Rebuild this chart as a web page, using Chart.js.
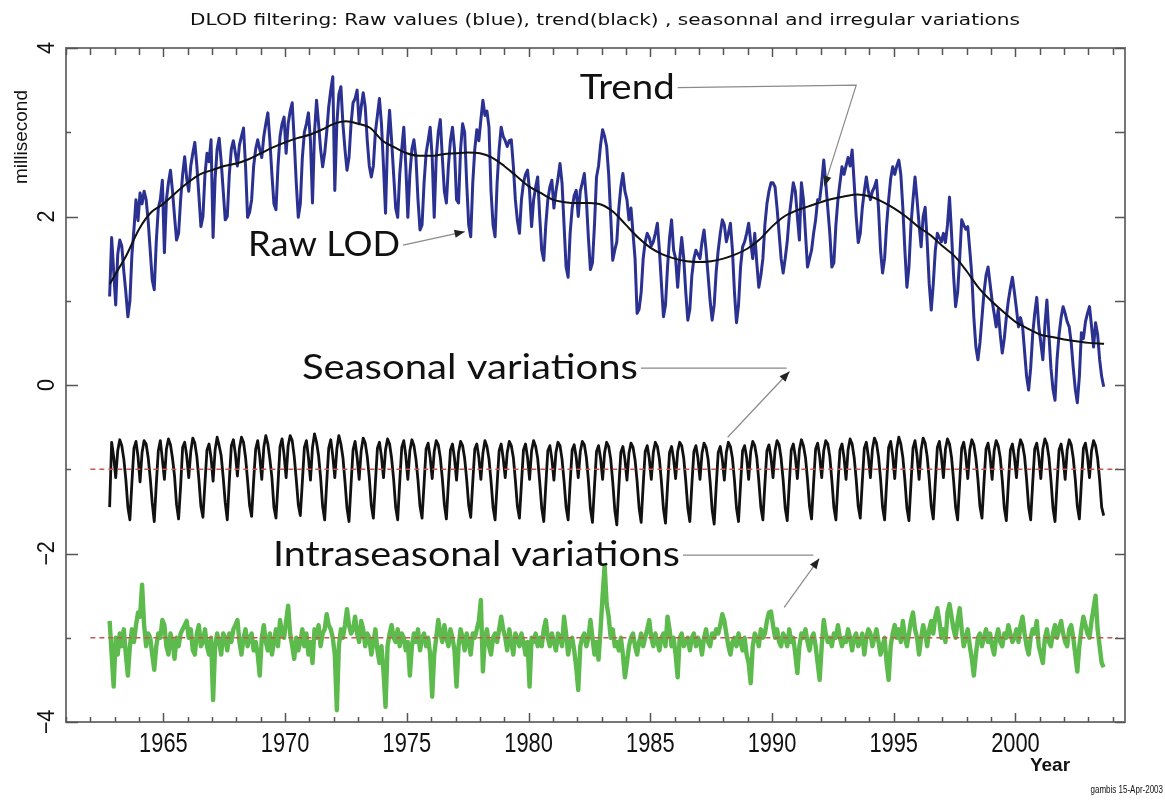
<!DOCTYPE html>
<html>
<head>
<meta charset="utf-8">
<script src="https://cdn.jsdelivr.net/npm/chart.js@4.4.0/dist/chart.umd.min.js"></script>
<style>
html,body{margin:0;padding:0;background:#fff;overflow:hidden}
#wrap{position:relative;width:1165px;height:807px;background:#fff}
canvas{display:block}
</style>
</head>
<body>
<div id="wrap"><canvas id="c" width="1165" height="807"></canvas></div>
<script>
// ---------------- DATA (monthly samples, first = Oct 1962) ----------------
const firstYear = 1962;
const firstMonth = 9; // October (0 = January)

// Raw LOD (blue), ms
const rawLOD = [
  1.05, 1.75, 1.35,
  0.95, 1.55, 1.72, 1.65, 1.35, 1.1, 0.81, 1.0, 1.55, 1.85, 2.2, 1.95,      // 1963
  2.28, 2.15, 2.3, 2.2, 1.95, 1.6, 1.25, 1.13, 1.7, 2.1, 2.2, 2.43,         // 1964
  1.57, 2.2, 2.4, 2.55, 2.3, 2.0, 1.72, 1.8, 2.2, 2.5, 2.71, 2.45,          // 1965
  2.3, 2.6, 2.75, 2.88, 2.6, 2.25, 1.88, 2.0, 2.5, 2.75, 2.65, 2.91,        // 1966
  1.75, 2.45, 2.8, 2.93, 2.65, 2.3, 1.96, 2.0, 2.5, 2.8, 2.9, 2.75,         // 1967
  2.6, 2.85, 2.95, 3.05, 2.6, 1.99, 2.05, 2.2, 2.6, 2.8, 2.91, 2.8,         // 1968
  2.7, 2.95, 3.1, 3.23, 2.9, 2.5, 2.15, 2.08, 2.6, 2.95, 3.1, 3.18,         // 1969
  2.75, 3.1, 3.25, 3.35, 2.9, 2.4, 1.99, 2.15, 2.7, 3.0, 3.1, 3.23,         // 1970
  2.9, 2.16, 3.0, 3.38, 3.1, 2.8, 2.59, 2.75, 3.0, 3.3, 3.5, 3.66,          // 1971
  2.31, 3.1, 3.45, 3.54, 3.1, 2.8, 2.55, 2.7, 3.1, 3.35, 3.4, 3.5,          // 1972
  3.1, 3.3, 3.47, 3.3, 2.9, 2.6, 2.47, 2.6, 3.0, 3.2, 3.4, 3.1,             // 1973
  2.6, 2.04, 2.9, 3.26, 2.9, 2.5, 2.1, 1.99, 2.5, 2.8, 3.06, 2.6,           // 1974
  1.99, 2.5, 2.8, 2.91, 2.7, 2.2, 1.84, 1.9, 2.4, 2.75, 2.9, 3.06,          // 1975
  2.7, 1.99, 2.7, 3.0, 3.15, 2.7, 2.3, 2.16, 2.6, 2.9, 3.06, 2.8,           // 1976
  2.2, 2.16, 2.8, 3.1, 3.0, 2.4, 1.9, 1.76, 2.4, 2.8, 3.03, 2.9,            // 1977
  3.15, 3.38, 3.2, 3.25, 3.06, 2.3, 1.9, 1.76, 2.4, 2.8, 3.06, 2.95,        // 1978
  2.9, 2.83, 2.9, 2.91, 2.6, 2.2, 1.95, 1.8, 2.2, 2.4, 2.5, 2.55,           // 1979
  2.3, 1.88, 2.2, 2.35, 2.47, 2.0, 1.6, 1.48, 1.9, 2.2, 2.35, 2.43,         // 1980
  2.1, 2.3, 2.45, 2.63, 2.4, 1.9, 1.4, 1.28, 1.8, 2.1, 2.25, 2.31,          // 1981
  2.0, 2.3, 2.4, 2.51, 2.2, 1.75, 1.37, 1.45, 1.9, 2.47, 2.6, 2.85,         // 1982
  3.03, 2.95, 2.83, 2.5, 2.0, 1.48, 1.6, 1.7, 2.1, 2.35, 2.51, 2.3,         // 1983
  2.2, 1.96, 2.1, 1.8, 1.5, 0.85, 0.9, 1.1, 1.5, 1.7, 1.8, 1.75,            // 1984
  1.65, 1.7, 1.8, 1.92, 1.6, 1.2, 0.81, 0.95, 1.4, 1.75, 1.96, 1.6,         // 1985
  1.5, 1.16, 1.5, 1.75, 1.5, 1.1, 0.77, 0.9, 1.3, 1.5, 1.6, 1.55,           // 1986
  1.5, 1.7, 1.84, 1.6, 1.3, 1.0, 0.77, 0.95, 1.35, 1.6, 1.8, 1.96,          // 1987
  1.9, 1.7, 1.8, 1.92, 1.6, 1.1, 0.74, 0.95, 1.4, 1.64, 1.7, 1.8,           // 1988
  1.92, 1.7, 1.5, 1.8, 1.45, 1.16, 1.3, 1.5, 1.9, 2.15, 2.3, 2.4,           // 1989
  2.4, 2.35, 2.1, 1.8, 1.5, 1.33, 1.5, 1.7, 2.0, 2.2, 2.4, 2.3,             // 1990
  2.0, 1.72, 2.4, 2.2, 1.8, 1.4, 1.5, 1.6, 1.8, 1.96, 2.2, 2.2,             // 1991
  2.4, 2.67, 2.4, 2.1, 1.8, 1.4, 1.45, 1.9, 2.2, 2.4, 2.59, 2.5,            // 1992
  2.6, 2.7, 2.6, 2.79, 2.4, 2.0, 1.69, 1.8, 2.1, 2.3, 2.47, 2.3,            // 1993
  2.2, 2.3, 2.35, 2.43, 2.1, 1.6, 1.33, 1.5, 1.9, 2.2, 2.45, 2.59,          // 1994
  2.5, 2.6, 2.67, 2.5, 2.1, 1.6, 1.16, 1.4, 1.9, 2.2, 2.47, 2.2,            // 1995
  1.9, 1.64, 2.0, 2.11, 1.7, 1.2, 0.89, 1.2, 1.6, 1.8, 1.75, 1.7,           // 1996
  1.8, 1.69, 1.9, 2.23, 1.8, 1.3, 0.93, 1.1, 1.5, 1.96, 1.9, 1.85,          // 1997
  1.88, 1.6, 1.3, 0.8, 0.45, 0.3, 0.5, 0.8, 1.1, 1.3, 1.4, 1.2,             // 1998
  1.0, 0.85, 0.69, 0.9, 0.6, 0.38, 0.55, 0.8, 1.0, 1.15, 1.28, 1.1,         // 1999
  0.9, 0.69, 0.8, 0.7, 0.4, 0.1, -0.06, 0.2, 0.6, 0.85, 1.04, 0.7,          // 2000
  0.5, 0.3, 0.7, 1.01, 0.6, 0.2, -0.05, -0.18, 0.3, 0.6, 0.8, 0.93,         // 2001
  0.85, 0.75, 0.69, 0.5, 0.2, -0.05, -0.21, 0.1, 0.62, 0.55, 0.75, 0.85,    // 2002
  0.93, 0.7, 0.45, 0.74, 0.6, 0.3, 0.1, -0.02                               // 2003
];

// Seasonal variations (black, offset to -1 ms)
const seasonal = [
  -1.45, -0.68, -0.85,
  -1.1, -0.78, -0.65, -0.72, -0.88, -1.12, -1.45, -1.6, -1.15, -0.75, -0.67, -0.85,
  -1.15, -0.8, -0.66, -0.7, -0.86, -1.1, -1.4, -1.62, -1.18, -0.78, -0.66, -0.88,
  -1.12, -0.76, -0.64, -0.71, -0.87, -1.08, -1.42, -1.59, -1.2, -0.74, -0.68, -0.84,
  -1.1, -0.79, -0.63, -0.69, -0.85, -1.12, -1.44, -1.57, -1.16, -0.77, -0.7, -0.86,
  -1.14, -0.77, -0.62, -0.72, -0.84, -1.1, -1.4, -1.6, -1.14, -0.72, -0.65, -0.82,
  -1.08, -0.75, -0.62, -0.68, -0.86, -1.13, -1.43, -1.56, -1.13, -0.76, -0.66, -0.85,
  -1.12, -0.74, -0.6, -0.7, -0.88, -1.1, -1.45, -1.58, -1.17, -0.73, -0.64, -0.83,
  -1.1, -0.72, -0.6, -0.66, -0.85, -1.12, -1.42, -1.55, -1.15, -0.74, -0.66, -0.86,
  -1.13, -0.74, -0.58, -0.68, -0.84, -1.1, -1.44, -1.6, -1.16, -0.75, -0.65, -0.84,
  -1.1, -0.76, -0.6, -0.7, -0.86, -1.14, -1.46, -1.62, -1.18, -0.77, -0.67, -0.86,
  -1.12, -0.78, -0.63, -0.69, -0.85, -1.1, -1.43, -1.58, -1.16, -0.75, -0.68, -0.85,
  -1.1, -0.77, -0.64, -0.7, -0.87, -1.12, -1.45, -1.6, -1.15, -0.74, -0.66, -0.84,
  -1.12, -0.78, -0.65, -0.72, -0.88, -1.13, -1.44, -1.58, -1.17, -0.76, -0.69, -0.86,
  -1.11, -0.79, -0.66, -0.71, -0.86, -1.11, -1.42, -1.59, -1.16, -0.77, -0.7, -0.87,
  -1.13, -0.8, -0.67, -0.72, -0.87, -1.12, -1.43, -1.57, -1.15, -0.76, -0.7, -0.86,
  -1.12, -0.81, -0.66, -0.73, -0.88, -1.14, -1.45, -1.6, -1.18, -0.78, -0.7, -0.87,
  -1.1, -0.8, -0.67, -0.72, -0.86, -1.13, -1.44, -1.58, -1.17, -0.77, -0.7, -0.86,
  -1.12, -0.78, -0.66, -0.73, -0.87, -1.15, -1.46, -1.62, -1.19, -0.78, -0.72, -0.88,
  -1.13, -0.8, -0.68, -0.72, -0.88, -1.14, -1.45, -1.6, -1.16, -0.77, -0.71, -0.86,
  -1.1, -0.79, -0.67, -0.71, -0.86, -1.13, -1.47, -1.63, -1.2, -0.79, -0.72, -0.87,
  -1.12, -0.8, -0.68, -0.73, -0.88, -1.15, -1.48, -1.66, -1.21, -0.8, -0.73, -0.88,
  -1.13, -0.81, -0.69, -0.74, -0.89, -1.14, -1.46, -1.63, -1.19, -0.79, -0.72, -0.87,
  -1.12, -0.8, -0.68, -0.73, -0.88, -1.15, -1.47, -1.64, -1.2, -0.8, -0.73, -0.88,
  -1.11, -0.79, -0.68, -0.72, -0.87, -1.14, -1.46, -1.62, -1.18, -0.79, -0.72, -0.87,
  -1.12, -0.81, -0.69, -0.74, -0.88, -1.15, -1.48, -1.65, -1.2, -0.8, -0.73, -0.88,
  -1.13, -0.8, -0.68, -0.73, -0.87, -1.13, -1.46, -1.62, -1.18, -0.78, -0.72, -0.86,
  -1.12, -0.79, -0.67, -0.72, -0.86, -1.14, -1.45, -1.6, -1.17, -0.78, -0.71, -0.86,
  -1.1, -0.78, -0.66, -0.71, -0.87, -1.13, -1.46, -1.61, -1.18, -0.77, -0.7, -0.85,
  -1.11, -0.77, -0.65, -0.72, -0.86, -1.12, -1.44, -1.59, -1.16, -0.76, -0.69, -0.85,
  -1.1, -0.78, -0.66, -0.7, -0.85, -1.13, -1.45, -1.6, -1.17, -0.77, -0.7, -0.86,
  -1.12, -0.77, -0.64, -0.7, -0.86, -1.12, -1.44, -1.58, -1.15, -0.75, -0.68, -0.85,
  -1.1, -0.76, -0.63, -0.69, -0.85, -1.11, -1.45, -1.6, -1.16, -0.74, -0.67, -0.84,
  -1.11, -0.76, -0.62, -0.7, -0.86, -1.13, -1.46, -1.61, -1.17, -0.75, -0.66, -0.84,
  -1.12, -0.77, -0.63, -0.69, -0.85, -1.12, -1.44, -1.59, -1.15, -0.74, -0.67, -0.85,
  -1.1, -0.76, -0.64, -0.7, -0.86, -1.13, -1.45, -1.6, -1.16, -0.75, -0.68, -0.84,
  -1.11, -0.77, -0.65, -0.71, -0.87, -1.12, -1.44, -1.58, -1.15, -0.76, -0.69, -0.85,
  -1.12, -0.78, -0.66, -0.72, -0.86, -1.13, -1.46, -1.61, -1.17, -0.77, -0.7, -0.86,
  -1.1, -0.77, -0.65, -0.71, -0.85, -1.12, -1.45, -1.6, -1.16, -0.76, -0.69, -0.85,
  -1.11, -0.76, -0.64, -0.7, -0.86, -1.13, -1.46, -1.62, -1.17, -0.77, -0.7, -0.86,
  -1.12, -0.77, -0.65, -0.71, -0.87, -1.12, -1.44, -1.59, -1.16, -0.75, -0.69, -0.85,
  -1.1, -0.78, -0.66, -0.72, -0.87, -1.13, -1.45, -1.55
];

// Intraseasonal variations (green, offset to -3 ms)
const intraseasonal = [
  -2.8, -3.2, -3.58,
  -3.0, -3.2, -2.95, -3.1, -2.9, -3.2, -3.45, -3.1, -2.9, -3.05, -2.85, -2.7,
  -2.75, -2.37, -2.85, -3.1, -2.95, -3.0, -3.2, -3.38, -3.1, -2.95, -3.0, -2.79,
  -2.85, -3.1, -3.2, -2.95, -3.05, -3.25, -3.0, -3.1, -2.95, -2.9, -2.85, -2.8,
  -3.0, -2.9, -3.15, -3.2, -2.95, -2.85, -3.1, -3.05, -2.9, -3.1, -3.2, -3.0,
  -3.74, -3.1, -2.95, -3.05, -3.2, -2.95, -3.0, -3.15, -2.95, -3.05, -2.9, -2.85,
  -2.79, -3.05, -3.2, -3.0, -2.9, -3.1, -3.0, -2.95, -3.15, -3.05, -3.2, -3.45,
  -3.0, -2.85, -3.05, -3.15, -2.95, -3.2, -3.05, -2.9, -3.1, -2.79, -2.95, -3.0,
  -2.8, -2.62, -2.95, -3.1, -3.25, -3.0, -3.15, -3.05, -2.9, -3.1, -2.95, -3.2,
  -3.05, -3.3, -2.9, -3.0, -2.85, -3.1, -2.95, -2.9, -2.72, -2.85, -2.9, -3.0,
  -3.2, -3.86, -3.1, -2.9, -3.0, -2.85, -2.66, -2.85, -2.95, -2.9, -2.75, -2.95,
  -3.05, -2.8, -2.9, -3.1, -2.95, -3.0, -3.2, -3.05, -2.9, -3.15, -3.3, -3.1,
  -3.4, -3.82, -3.1, -2.95, -2.85, -3.0, -3.05, -2.9, -3.1, -2.95, -3.0, -3.15,
  -3.05, -3.45, -3.1, -2.95, -3.05, -2.9, -3.15, -3.0, -2.95, -3.1, -3.0, -3.2,
  -3.7, -3.2, -3.0, -2.79, -2.95, -3.05, -2.85, -3.0, -3.1, -2.9, -3.0, -3.15,
  -3.58, -3.1, -2.9, -3.0, -3.15, -2.95, -3.05, -3.2, -2.95, -3.0, -2.9, -2.8,
  -2.55, -3.4, -3.0, -2.9, -3.1, -3.2, -3.0, -2.95, -3.05, -2.9, -2.75, -2.9,
  -3.0, -3.15, -2.9, -3.05, -3.2, -2.95, -3.0, -3.1, -2.95, -3.05, -3.2, -3.05,
  -3.58, -3.0, -3.05, -2.95, -3.1, -3.0, -3.1, -2.9, -2.79, -3.0, -3.1, -2.95,
  -3.05, -3.15, -2.95, -3.0, -3.1, -2.75, -2.95, -3.2, -3.05, -3.0, -3.15, -3.35,
  -3.62, -3.1, -3.0, -2.95, -3.1, -3.0, -2.79, -3.0, -3.2, -3.05, -3.26, -2.9,
  -2.5, -2.14, -2.6, -2.75, -3.0, -2.9, -3.1, -3.05, -3.15, -3.0, -3.2, -3.47,
  -3.3, -3.1, -3.0, -2.95, -3.1, -3.2, -3.05, -2.95, -3.1, -3.0, -2.9, -2.79,
  -3.0, -3.1, -2.95, -3.05, -3.15, -3.0, -2.95, -3.1, -2.75, -2.9, -3.1, -3.0,
  -3.2, -3.47, -3.0, -2.95, -3.1, -3.05, -3.0, -3.15, -3.0, -2.95, -3.1, -3.0,
  -3.05, -3.2, -3.0, -2.9, -3.05, -3.1, -2.95, -3.0, -2.9, -2.95, -2.85, -2.72,
  -2.8, -2.95, -3.1, -3.2, -3.05, -3.0, -3.1, -2.95, -3.05, -3.15, -3.0, -3.2,
  -3.3, -3.54, -3.1, -2.95, -3.0, -3.1, -2.9, -3.0, -2.95, -2.8, -2.7, -2.69,
  -2.85, -3.0, -2.9, -3.05, -3.1, -2.95, -3.0, -3.1, -2.9, -3.05, -3.0, -3.2,
  -3.42, -3.1, -2.95, -3.0, -2.9, -3.05, -3.15, -3.0, -2.95, -3.1, -3.3, -3.5,
  -3.1, -2.79, -2.95, -3.05, -3.0, -3.1, -2.95, -3.0, -2.85, -3.0, -3.1, -3.0,
  -3.05, -2.9, -3.0, -3.15, -3.0, -2.95, -3.1, -3.05, -2.95, -3.2, -3.0, -2.9,
  -2.95, -3.1, -3.0, -2.9, -3.05, -3.2, -3.1, -3.0, -3.3, -3.5, -3.1, -2.95,
  -2.85, -3.0, -2.9, -3.05, -2.8, -3.0, -3.1, -2.95, -2.8, -2.7, -2.9, -3.0,
  -3.2, -3.0, -2.85, -2.95, -3.1, -2.9, -2.8, -2.95, -2.75, -2.65, -2.8, -3.0,
  -2.9, -3.05, -2.7, -2.6, -2.75, -2.9, -3.0, -2.8, -2.65, -2.9, -3.1, -3.0,
  -2.9, -3.1, -3.25, -3.45, -3.2, -3.0, -2.95, -3.1, -3.0, -2.9, -3.05, -2.95,
  -3.1, -3.2, -3.0, -2.9, -3.05, -3.1, -2.95, -3.0, -2.85, -2.95, -3.05, -3.0,
  -2.9, -3.05, -2.85, -2.75, -2.95, -3.1, -3.2, -3.0, -2.9, -2.95, -2.8, -3.1,
  -3.2, -3.3, -3.0, -2.9, -3.05, -3.1, -2.95, -2.85, -3.0, -2.9, -2.8, -2.95,
  -3.05, -3.1, -2.9, -2.85, -3.0, -3.2, -3.4, -3.1, -2.9, -2.75, -2.85, -2.95,
  -3.0, -2.8, -2.65, -2.5, -2.9, -3.1, -3.3, -3.35
];

// Trend (black smooth curve)
const trendYears = [1962.8, 1963, 1963.5, 1964, 1964.5, 1965, 1965.5, 1966, 1966.5, 1967, 1967.5,
  1968, 1968.5, 1969, 1969.5, 1970, 1970.5, 1971, 1971.5, 1972, 1972.5, 1973, 1973.5, 1974, 1974.5,
  1975, 1975.5, 1976, 1976.5, 1977, 1977.5, 1978, 1978.5, 1979, 1979.5, 1980, 1980.5, 1981, 1981.5,
  1982, 1982.5, 1983, 1983.5, 1984, 1984.5, 1985, 1985.5, 1986, 1986.5, 1987, 1987.5, 1988, 1988.5,
  1989, 1989.5, 1990, 1990.5, 1991, 1991.5, 1992, 1992.5, 1993, 1993.5, 1994, 1994.5, 1995, 1995.5,
  1996, 1996.5, 1997, 1997.5, 1998, 1998.5, 1999, 1999.5, 2000, 2000.5, 2001, 2001.5, 2002, 2002.5,
  2003, 2003.64];
const trendValues = [1.2, 1.3, 1.55, 1.85, 2.05, 2.15, 2.28, 2.4, 2.5, 2.55, 2.6,
  2.63, 2.68, 2.75, 2.82, 2.88, 2.93, 2.97, 3.03, 3.1, 3.13, 3.1, 3.05, 2.9, 2.82,
  2.75, 2.72, 2.72, 2.74, 2.75, 2.76, 2.75, 2.7, 2.6, 2.48, 2.36, 2.28, 2.2, 2.17,
  2.16, 2.16, 2.14, 2.05, 1.9, 1.75, 1.63, 1.55, 1.5, 1.47, 1.46, 1.47, 1.5, 1.55,
  1.62, 1.73, 1.88, 2.0, 2.07, 2.12, 2.17, 2.21, 2.24, 2.26, 2.24, 2.18, 2.1, 2.0,
  1.88, 1.78, 1.65, 1.53, 1.35, 1.15, 1.0, 0.87, 0.75, 0.67, 0.6, 0.57, 0.54, 0.52,
  0.5, 0.49];

const xTickLabels = [1965, 1970, 1975, 1980, 1985, 1990, 1995, 2000];
const yTickLabels = [4, 2, 0, -2, -4];
const refLevels = [-1, -3];
const refSpan = [1962.0, 2004.2];

// ---------------- helpers ----------------
const monthX = i => firstYear + (firstMonth + i + 0.5) / 12;
const toPts = arr => arr.map((v, i) => ({ x: monthX(i), y: v }));
const trendPts = trendYears.map((x, i) => ({ x, y: trendValues[i] }));

const SANS = '"Liberation Sans", Arial, sans-serif';
const GOTHIC = 'Lato, "Open Sans", sans-serif';

// annotation layout (data coordinates + target text width in px)
const notes = [
  { text: 'Trend', x: 1982.1, y: 3.53, w: 95, path: [[1993.46, 3.56], [1992.15, 2.36]] },
  { text: 'Raw LOD', x: 1968.48, y: 1.66, w: 152, path: [[1977.38, 1.82]] },
  { text: 'Seasonal variations', x: 1970.69, y: 0.2, w: 336, path: [[1990.6, 0.2]], arrow2: [[1988.18, -0.62], [1990.72, 0.16]] },
  { text: 'Intraseasonal variations', x: 1969.5, y: -2.02, w: 407, path: [[1991.7, -2.02]], arrow2: [[1990.5, -2.64], [1991.94, -2.06]] }
];

function arrowHead(ctx, x0, y0, x1, y1, size) {
  const a = Math.atan2(y1 - y0, x1 - x0);
  ctx.beginPath();
  ctx.moveTo(x1, y1);
  ctx.lineTo(x1 - size * Math.cos(a - 0.38), y1 - size * Math.sin(a - 0.38));
  ctx.lineTo(x1 - size * Math.cos(a + 0.38), y1 - size * Math.sin(a + 0.38));
  ctx.closePath();
  ctx.fill();
}

// draw text horizontally scaled; align: 'left' | 'center' | 'right'
function textScaled(ctx, str, x, y, sx, align) {
  ctx.save();
  ctx.translate(x, y);
  ctx.scale(sx, 1);
  ctx.textAlign = align;
  ctx.fillText(str, 0, 0);
  ctx.restore();
}
// draw text fitted to a given width
function textFit(ctx, str, x, y, width, align) {
  const w = ctx.measureText(str).width;
  textScaled(ctx, str, x, y, width / w, align);
}

const overlay = {
  id: 'overlay',
  afterDraw(chart) {
    const { ctx, chartArea: a, scales: { x, y } } = chart;
    ctx.save();
    // frame
    ctx.strokeStyle = '#777';
    ctx.lineWidth = 2;
    ctx.strokeRect(a.left, a.top, a.right - a.left, a.bottom - a.top);
    // x ticks (yearly minor, 5-yearly major)
    ctx.strokeStyle = '#555';
    ctx.lineWidth = 1.5;
    for (let yr = Math.ceil(x.min); yr <= x.max; yr++) {
      const px = Math.round(x.getPixelForValue(yr)) + 0.5;
      const major = xTickLabels.includes(yr);
      ctx.beginPath();
      ctx.moveTo(px, a.bottom); ctx.lineTo(px, a.bottom - (major ? 9 : 5));
      ctx.moveTo(px, a.top); ctx.lineTo(px, a.top + (major ? 9 : 7));
      ctx.stroke();
    }
    // y ticks
    for (let v = y.min; v <= y.max; v++) {
      const py = Math.round(y.getPixelForValue(v)) + 0.5;
      const major = yTickLabels.includes(v);
      ctx.beginPath();
      ctx.moveTo(a.left, py); ctx.lineTo(a.left + (major ? 12 : 5), py);
      ctx.moveTo(a.right, py); ctx.lineTo(a.right - 10, py);
      ctx.stroke();
    }
    ctx.fillStyle = '#111';
    ctx.textBaseline = 'middle';
    // x tick labels
    ctx.font = '28px ' + SANS;
    xTickLabels.forEach(v => textScaled(ctx, String(v), x.getPixelForValue(v), a.bottom + 22, 0.78, 'center'));
    // y tick labels (rotated)
    ctx.font = '24px ' + SANS;
    yTickLabels.forEach(v => {
      ctx.save();
      ctx.translate(47, y.getPixelForValue(v));
      ctx.rotate(-Math.PI / 2);
      textScaled(ctx, String(v).replace('-', '\u2212'), 0, 0, 0.9, 'center');
      ctx.restore();
    });
    // y axis title
    ctx.save();
    ctx.translate(22, 137);
    ctx.rotate(-Math.PI / 2);
    ctx.font = '19px ' + SANS;
    textScaled(ctx, 'millisecond', 0, 0, 1, 'center');
    ctx.restore();
    // main title
    ctx.font = '16px "DejaVu Sans", sans-serif';
    textFit(ctx, 'DLOD filtering: Raw values (blue), trend(black) , seasonnal and irregular variations', 605, 21, 830, 'center');
    // x axis title + credit
    ctx.font = 'bold 19px ' + SANS;
    textScaled(ctx, 'Year', 1050, 766, 1, 'center');
    ctx.font = '10px ' + SANS;
    textScaled(ctx, 'gambis 15-Apr-2003', 1163, 790, 0.8, 'right');

    // annotations
    ctx.font = '35px ' + GOTHIC;
    notes.forEach(n => {
      const tx = x.getPixelForValue(n.x), ty = y.getPixelForValue(n.y);
      ctx.fillStyle = '#111';
      textFit(ctx, n.text, tx, ty, n.w, 'left');
      const pts = [[tx + n.w + 3, ty]].concat(n.path.map(p => [x.getPixelForValue(p[0]), y.getPixelForValue(p[1])]));
      ctx.strokeStyle = '#8a8a8a';
      ctx.lineWidth = 1.2;
      ctx.beginPath();
      pts.forEach((p, i) => i ? ctx.lineTo(p[0], p[1]) : ctx.moveTo(p[0], p[1]));
      ctx.stroke();
      ctx.fillStyle = '#222';
      if (!n.arrow2) {
        const p0 = pts[pts.length - 2], p1 = pts[pts.length - 1];
        arrowHead(ctx, p0[0], p0[1], p1[0], p1[1], 11);
      } else {
        const q = n.arrow2.map(p => [x.getPixelForValue(p[0]), y.getPixelForValue(p[1])]);
        ctx.beginPath(); ctx.moveTo(q[0][0], q[0][1]); ctx.lineTo(q[1][0], q[1][1]); ctx.stroke();
        arrowHead(ctx, q[0][0], q[0][1], q[1][0], q[1][1], 11);
      }
    });
    ctx.restore();
  }
};

new Chart(document.getElementById('c'), {
  type: 'line',
  data: {
    datasets: [
      { label: 'Trend', data: trendPts, borderColor: '#111', borderWidth: 2, cubicInterpolationMode: 'monotone' },
      ...refLevels.map(l => ({ label: 'ref ' + l, data: refSpan.map(xv => ({ x: xv, y: l })), borderColor: '#c8574d', borderWidth: 1.5, borderDash: [5, 4] })),
      { label: 'Raw LOD', data: toPts(rawLOD), borderColor: '#2b3191', borderWidth: 3 },
      { label: 'Seasonal', data: toPts(seasonal), borderColor: '#111', borderWidth: 2.8 },
      { label: 'Intraseasonal', data: toPts(intraseasonal), borderColor: '#5cbb4c', borderWidth: 4.4 }
    ]
  },
  options: {
    responsive: false,
    animation: false,
    events: [],
    layout: { padding: { top: 48, right: 40, left: 0, bottom: 0 } },
    elements: { point: { radius: 0 }, line: { tension: 0, borderJoinStyle: 'round' } },
    plugins: { legend: { display: false }, title: { display: false }, tooltip: { enabled: false } },
    scales: {
      x: {
        type: 'linear', min: 1961.0, max: 2004.5,
        grid: { display: false }, border: { display: false },
        afterBuildTicks: s => { s.ticks = xTickLabels.map(v => ({ value: v })); },
        afterFit: s => { s.height = 85; },
        ticks: { display: false }
      },
      y: {
        min: -4, max: 4,
        grid: { display: false }, border: { display: false },
        ticks: { display: false },
        afterFit: s => { s.width = 66; }
      }
    }
  },
  plugins: [overlay]
});
</script>
</body>
</html>
